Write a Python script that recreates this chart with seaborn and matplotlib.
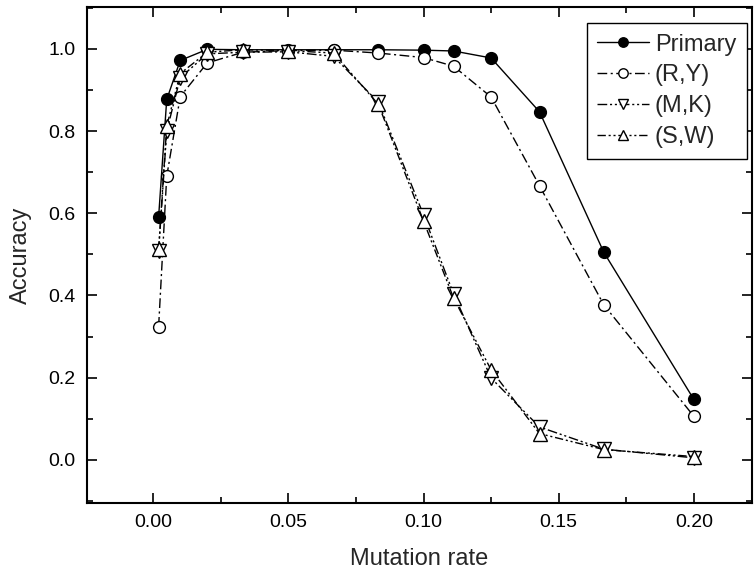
import numpy as np
import pandas as pd
import matplotlib
matplotlib.use('Agg')
import matplotlib.pyplot as plt
import seaborn as sns
from matplotlib.ticker import MultipleLocator, FormatStrFormatter

# --- data ---
mutation_rate = [0.002, 0.005, 0.01, 0.02, 0.0333, 0.05, 0.0667,
                 0.0833, 0.1, 0.1111, 0.125, 0.1429, 0.1667, 0.2]

primary = [0.591, 0.877, 0.972, 0.999, 0.998, 0.998, 0.998,
           0.998, 0.997, 0.995, 0.978, 0.847, 0.505, 0.147]
ry = [0.324, 0.690, 0.884, 0.966, 0.992, 0.996, 0.997,
      0.990, 0.979, 0.958, 0.883, 0.667, 0.377, 0.106]
mk = [0.508, 0.800, 0.930, 0.988, 0.992, 0.993, 0.982,
      0.870, 0.596, 0.404, 0.199, 0.080, 0.026, 0.005]
sw = [0.512, 0.812, 0.940, 0.992, 0.998, 0.996, 0.990,
      0.865, 0.581, 0.394, 0.219, 0.064, 0.025, 0.008]

series_names = ['Primary', '(R,Y)', '(M,K)', '(S,W)']
series_values = [primary, ry, mk, sw]

# --- styles ---
STYLES = {
    'Primary': dict(marker='o', ms=8.5, mfc='black', ls='-'),
    '(R,Y)': dict(marker='o', ms=8.5, mfc='white', ls=(0, (7, 2.5, 1.5, 2.5))),
    '(M,K)': dict(marker='v', ms=9.5, mfc='white', ls=(0, (7, 2, 1.5, 2, 1.5, 2))),
    '(S,W)': dict(marker='^', ms=9.5, mfc='white', ls=(0, (6, 2, 1.5, 2, 1.5, 2))),
}

sns.set_style('ticks')
plt.rcParams['font.family'] = ['Liberation Sans', 'DejaVu Sans']

fig = plt.figure(figsize=(7.55, 5.75), dpi=100)
ax = fig.add_axes([0.1152, 0.1252, 0.8808, 0.8626])

for name, vals in zip(series_names, series_values):
    st = STYLES[name]
    sns.lineplot(x=mutation_rate, y=vals, ax=ax, color='black', lw=1.0,
                 linestyle=st['ls'], marker=st['marker'], markersize=st['ms'],
                 markerfacecolor=st['mfc'], markeredgecolor='black',
                 markeredgewidth=1.0, label=name, estimator=None, sort=False)

ax.set_xlim(-0.0245, 0.2215)
ax.set_ylim(-0.105, 1.102)
ax.xaxis.set_major_locator(MultipleLocator(0.05))
ax.xaxis.set_minor_locator(MultipleLocator(0.025))
ax.yaxis.set_major_locator(MultipleLocator(0.2))
ax.yaxis.set_minor_locator(MultipleLocator(0.1))
ax.xaxis.set_major_formatter(FormatStrFormatter('%.2f'))
ax.yaxis.set_major_formatter(FormatStrFormatter('%.1f'))

ax.tick_params(which='both', direction='in', top=True, right=True,
               labelsize=14, width=1.2, color='black', labelcolor='black')
ax.tick_params(which='major', length=7, pad=8)
ax.tick_params(which='minor', length=4)
for sp in ax.spines.values():
    sp.set_visible(True)
    sp.set_linewidth(1.5)
    sp.set_color('black')

ax.set_xlabel('Mutation rate', fontsize=17, labelpad=12)
ax.set_ylabel('Accuracy', fontsize=17, labelpad=12)

leg = ax.legend(loc='upper right', bbox_to_anchor=(0.9925, 0.968), fontsize=17,
                frameon=True, fancybox=False, framealpha=1, edgecolor='black',
                handlelength=2.2, handletextpad=0.25, borderpad=0.45,
                labelspacing=0.38, borderaxespad=0.0, markerscale=0.8)
leg.get_frame().set_linewidth(1.0)

fig.savefig('out.png', dpi=100)
